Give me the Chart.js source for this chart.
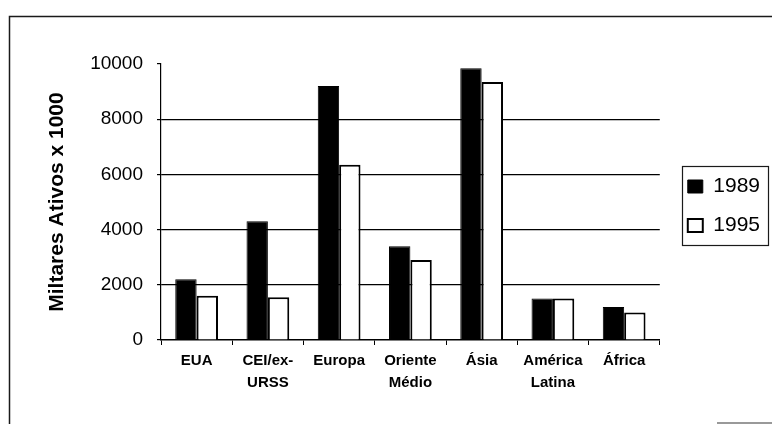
<!DOCTYPE html>
<html lang="pt">
<head>
    <meta charset="UTF-8">
    <title>Militares Ativos</title>
    <script src="https://cdn.jsdelivr.net/npm/chart.js"></script>
    <style>
        body { margin: 0; background: #fff; }
        canvas { display: block; }
    </style>
</head>
<body>
    <canvas id="chart" width="772" height="424"></canvas>

    <script>
        // Data
        const categories = ['EUA', ['CEI/ex-', 'URSS'], 'Europa', ['Oriente', 'Médio'], 'Ásia', ['América', 'Latina'], 'África'];
        const values1989 = [2200, 4300, 9200, 3400, 9850, 1500, 1200];
        const values1995 = [1600, 1550, 6350, 2900, 9350, 1500, 1000];
        const seriesNames = ['1989', '1995'];
        const yTicks = [0, 2000, 4000, 6000, 8000, 10000];

        Chart.defaults.font.family = "'Liberation Sans', Arial, sans-serif";
        Chart.defaults.color = '#000';

        // legend sits a bit off the plot and higher than chart.js would put it
        const LEGEND_SHIFT = { x: 10, y: -38 };

        // outer frame of the scanned figure + box around the legend
        const framePlugin = {
            id: 'frame',
            afterLayout(chart) {
                // hit boxes get recomputed from these in the legend's afterUpdate
                const lg = chart.legend;
                lg.left += LEGEND_SHIFT.x;
                lg.right += LEGEND_SHIFT.x;
                lg.top += LEGEND_SHIFT.y;
                lg.bottom += LEGEND_SHIFT.y;
            },
            afterDraw(chart) {
                const ctx = chart.ctx;
                ctx.save();
                ctx.strokeStyle = '#1a1a1a';
                ctx.lineWidth = 1.5;
                ctx.beginPath();
                ctx.moveTo(9.5, chart.height);
                ctx.lineTo(9.5, 16.5);
                ctx.lineTo(chart.width, 16.5);
                ctx.stroke();
                ctx.strokeStyle = '#777';
                ctx.beginPath();
                ctx.moveTo(717, 423);
                ctx.lineTo(chart.width, 423);
                ctx.stroke();

                const boxes = chart.legend.legendHitBoxes;
                const l = Math.min(...boxes.map(hb => hb.left)) - 6;
                const t = Math.min(...boxes.map(hb => hb.top)) - 10;
                const r = Math.max(...boxes.map(hb => hb.left + hb.width)) + 8;
                const btm = Math.max(...boxes.map(hb => hb.top + hb.height)) + 9;
                ctx.strokeStyle = '#1a1a1a';
                ctx.lineWidth = 1.2;
                ctx.strokeRect(Math.round(l) + 0.5, Math.round(t) + 0.5, Math.round(r - l), Math.round(btm - t));
                ctx.restore();
            }
        };

        new Chart(document.getElementById('chart'), {
            type: 'bar',
            data: {
                labels: categories,
                datasets: [{
                    label: seriesNames[0],
                    data: values1989,
                    backgroundColor: '#000',
                    borderColor: '#000',
                    borderWidth: 1
                }, {
                    label: seriesNames[1],
                    data: values1995,
                    backgroundColor: '#fff',
                    borderColor: '#000',
                    borderWidth: 2
                }]
            },
            options: {
                responsive: false,
                animation: false,
                categoryPercentage: 0.6,
                barPercentage: 1,
                layout: { padding: { top: 64, left: 40, right: 12, bottom: 0 } },
                plugins: {
                    tooltip: { enabled: false },
                    legend: {
                        position: 'right',
                        labels: {
                            font: { size: 21 },
                            boxWidth: 15,
                            boxHeight: 13,
                            padding: 18
                        }
                    }
                },
                scales: {
                    x: {
                        grid: {
                            drawOnChartArea: false,
                            tickLength: 5,
                            tickColor: '#000'
                        },
                        border: { color: '#000', width: 1.5 },
                        ticks: {
                            font: { size: 15, weight: 'bold', lineHeight: 1.45 },
                            padding: 5,
                            maxRotation: 0,
                            autoSkip: false
                        },
                        afterFit(scale) { scale.height = 84; }
                    },
                    y: {
                        min: 0,
                        max: 10000,
                        afterBuildTicks(scale) { scale.ticks = yTicks.map(v => ({ value: v })); },
                        grid: {
                            color: ctx => (ctx.tick && ctx.tick.value > 0 && ctx.tick.value < 10000) ? '#000' : 'rgba(0,0,0,0)',
                            lineWidth: 1.2,
                            tickLength: 4,
                            tickColor: '#000'
                        },
                        border: { color: '#000', width: 1.2 },
                        ticks: {
                            font: { size: 19 },
                            padding: 14,
                            callback: v => String(v)
                        },
                        title: {
                            display: true,
                            text: 'Miltares Ativos x 1000',
                            font: { size: 21, weight: 'bold' },
                            padding: { top: 5, bottom: 0 }
                        },
                        afterFit(scale) { scale.width = 121; }
                    }
                }
            },
            plugins: [framePlugin]
        });
    </script>
</body>
</html>
